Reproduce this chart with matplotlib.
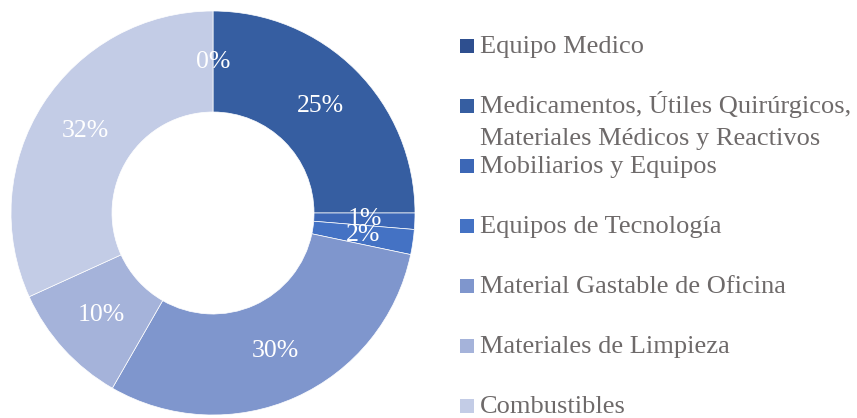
import matplotlib
matplotlib.use('Agg')
import matplotlib.pyplot as plt
import matplotlib.patches as patches

# ── Data ────────────────────────────────────────────────────────────────
categories = [
    "Equipo Medico",
    "Medicamentos, Útiles Quirúrgicos,\nMateriales Médicos y Reactivos",
    "Mobiliarios y Equipos",
    "Equipos de Tecnología",
    "Material Gastable de Oficina",
    "Materiales de Limpieza",
    "Combustibles",
]
shares = [0.0, 25.0, 1.3, 2.0, 30.0, 9.9, 31.8]

# ── Style ───────────────────────────────────────────────────────────────
colors = ["#2e4f8f", "#365ea1", "#3c67b6", "#4472c4", "#7f96cd", "#a5b3da", "#c3cce6"]
TEXT = "#6e6a6a"
FONT = "Liberation Serif"
W, H = 857, 418

fig = plt.figure(figsize=(W / 100, H / 100), dpi=100)
fig.patch.set_facecolor("white")

# donut axes, placed in pixel terms (centre ~ (213, 213), radius ~ 202)
cx, cy, r = 213, 213, 202
ax = fig.add_axes([(cx - r) / W, (H - cy - r) / H, 2 * r / W, 2 * r / H])
wedges, _, autotexts = ax.pie(
    shares, colors=colors, startangle=90, counterclock=False, radius=1,
    autopct=lambda p: f"{p:.0f}%", pctdistance=0.75,
    wedgeprops=dict(width=0.5, edgecolor="white", linewidth=0.5),
    textprops=dict(color="white", fontsize=18.5, family=FONT),
)
ax.set_xlim(-1, 1)
ax.set_ylim(-1, 1)
ax.set_aspect("equal")
ax.axis("off")

# ── Legend (drawn by hand, Excel-style spacing) ────────────────────────
centres = [46, 106, 166, 226, 286, 346, 406]   # px from top
mx, ms, tx = 460, 14, 480
for lab, col, yc in zip(categories, colors, centres):
    fig.patches.append(patches.Rectangle(
        (mx / W, 1 - (yc + ms / 2) / H), ms / W, ms / H,
        transform=fig.transFigure, facecolor=col, edgecolor="none"))
    for i, line in enumerate(lab.split("\n")):
        fig.text(tx / W, 1 - (yc + 7 + 32 * i) / H, line, ha="left", va="baseline",
                 fontsize=19, color=TEXT, family=FONT)

fig.savefig("out.png", dpi=100, facecolor="white")
